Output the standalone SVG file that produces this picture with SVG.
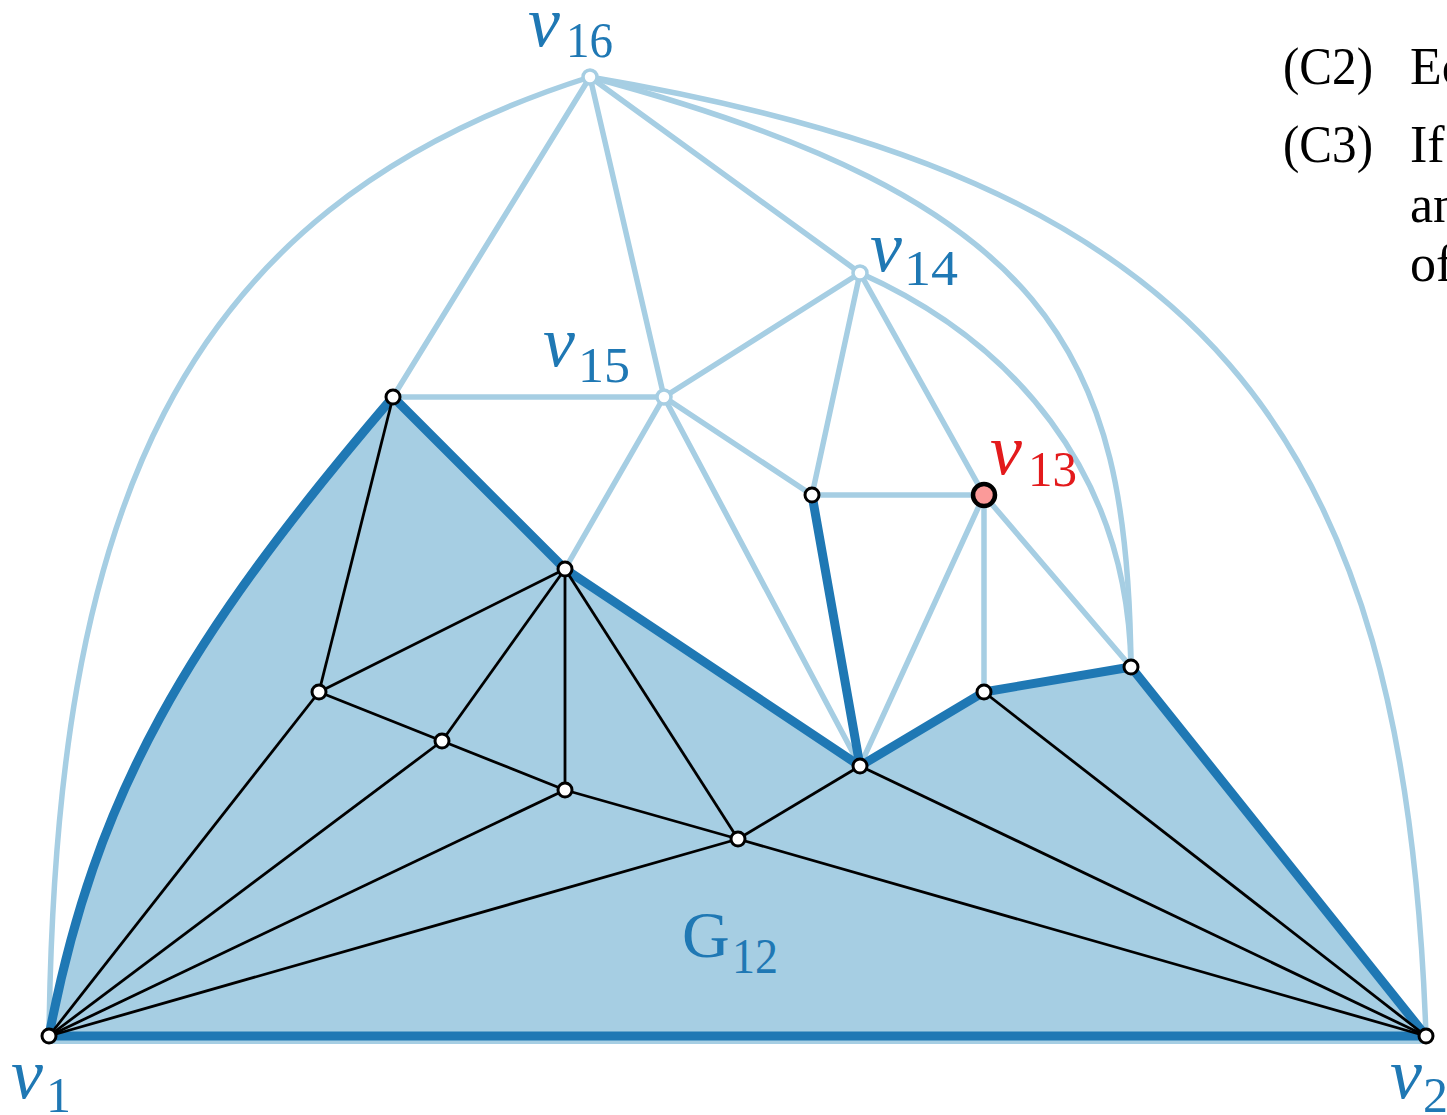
<svg xmlns="http://www.w3.org/2000/svg" width="1447" height="1115" viewBox="0 0 1447 1115">
<style>
.lt{stroke:#a6cee3;stroke-width:5.5;fill:none;stroke-linecap:round}
.dk{stroke:#1f78b4;stroke-width:9;fill:none;stroke-linecap:round;stroke-linejoin:round}
.bk{stroke:#000;stroke-width:2.8;fill:none}
.nd{fill:#fff;stroke:#000;stroke-width:3}
.ln{fill:#fff;stroke:#a6cee3;stroke-width:3.5}
.v{font-family:"Liberation Serif",serif;font-style:italic;font-size:72px;fill:#1f78b4}
.s{font-family:"Liberation Serif",serif;font-size:50px;fill:#1f78b4}
.t{font-family:"Liberation Serif",serif;font-size:52px;fill:#000}
</style>
<rect width="1447" height="1115" fill="#fff"/>
<g id="region">
<path d="M49,1036 C95,795 185,640 393,397 L565,569 L860,766 L984,692 L1131,667 L1426,1036 Z" fill="#a6cee3" stroke="#a6cee3" stroke-width="4"/>
<line x1="49" y1="1039" x2="1426" y2="1039" stroke="#a6cee3" stroke-width="10"/>
</g>
<g id="connectors">
<path class="lt" d="M49,1036 C55,520 170,210 590,77"/>
<path class="lt" d="M590,77 C1200,180 1405,420 1426,1036"/>
<path class="lt" d="M590,77 C1050,200 1128,350 1131,667"/>
<path class="lt" d="M860,273 C1010,340 1128,470 1131,667"/>
<line class="lt" x1="590" y1="77" x2="393" y2="397"/>
<line class="lt" x1="590" y1="77" x2="664" y2="397"/>
<line class="lt" x1="590" y1="77" x2="860" y2="273"/>
<line class="lt" x1="393" y1="397" x2="664" y2="397"/>
<line class="lt" x1="664" y1="397" x2="565" y2="569"/>
<line class="lt" x1="664" y1="397" x2="860" y2="273"/>
<line class="lt" x1="664" y1="397" x2="812" y2="495"/>
<line class="lt" x1="664" y1="397" x2="860" y2="766"/>
<line class="lt" x1="860" y1="273" x2="812" y2="495"/>
<line class="lt" x1="860" y1="273" x2="984" y2="495"/>
<line class="lt" x1="812" y1="495" x2="984" y2="495"/>
<line class="lt" x1="984" y1="495" x2="860" y2="766"/>
<line class="lt" x1="984" y1="495" x2="984" y2="692"/>
<line class="lt" x1="984" y1="495" x2="1131" y2="667"/>
<path class="dk" d="M49,1036 C95,795 185,640 393,397 L565,569 L860,766 L984,692 L1131,667 L1426,1036 L49,1036"/>
<line class="dk" x1="812" y1="495" x2="860" y2="766"/>
<line class="bk" x1="393" y1="397" x2="319" y2="692"/>
<line class="bk" x1="319" y1="692" x2="565" y2="569"/>
<line class="bk" x1="319" y1="692" x2="442" y2="741"/>
<line class="bk" x1="319" y1="692" x2="49" y2="1036"/>
<line class="bk" x1="565" y1="569" x2="442" y2="741"/>
<line class="bk" x1="565" y1="569" x2="565" y2="790"/>
<line class="bk" x1="565" y1="569" x2="738" y2="839"/>
<line class="bk" x1="442" y1="741" x2="565" y2="790"/>
<line class="bk" x1="442" y1="741" x2="49" y2="1036"/>
<line class="bk" x1="565" y1="790" x2="738" y2="839"/>
<line class="bk" x1="565" y1="790" x2="49" y2="1036"/>
<line class="bk" x1="738" y1="839" x2="860" y2="766"/>
<line class="bk" x1="738" y1="839" x2="49" y2="1036"/>
<line class="bk" x1="738" y1="839" x2="1426" y2="1036"/>
<line class="bk" x1="860" y1="766" x2="1426" y2="1036"/>
<line class="bk" x1="984" y1="692" x2="1426" y2="1036"/>
</g>
<g id="v16"><circle class="ln" cx="590" cy="77" r="7"/><text class="v" x="528" y="46">v</text><text class="s" x="566" y="57" textLength="47" lengthAdjust="spacingAndGlyphs">16</text></g>
<g id="v15"><circle class="ln" cx="664" cy="397" r="7"/><text class="v" x="543" y="366">v</text><text class="s" x="578" y="382" textLength="52" lengthAdjust="spacingAndGlyphs">15</text></g>
<g id="v14"><circle class="ln" cx="860" cy="273" r="7"/><text class="v" x="870" y="271">v</text><text class="s" x="904" y="285" textLength="54" lengthAdjust="spacingAndGlyphs">14</text></g>
<g id="v13"><circle cx="984" cy="495" r="11" fill="#fb9a99" stroke="#000" stroke-width="4.5"/><text class="v" x="990" y="474" style="fill:#e31a1c">v</text><text class="s" x="1028" y="486" textLength="49" lengthAdjust="spacingAndGlyphs" style="fill:#e31a1c">13</text></g>
<g id="a"><circle class="nd" cx="393" cy="397" r="7"/></g>
<g id="b"><circle class="nd" cx="565" cy="569" r="7"/></g>
<g id="c"><circle class="nd" cx="319" cy="692" r="7"/></g>
<g id="d"><circle class="nd" cx="442" cy="741" r="7"/></g>
<g id="e"><circle class="nd" cx="565" cy="790" r="7"/></g>
<g id="f"><circle class="nd" cx="738" cy="839" r="7"/></g>
<g id="g"><circle class="nd" cx="860" cy="766" r="7"/></g>
<g id="h"><circle class="nd" cx="812" cy="495" r="7"/></g>
<g id="i"><circle class="nd" cx="984" cy="692" r="7"/></g>
<g id="j"><circle class="nd" cx="1131" cy="667" r="7"/></g>
<g id="v1"><circle class="nd" cx="49" cy="1036" r="7"/><text class="v" x="11" y="1098">v</text><text class="s" x="46" y="1112">1</text></g>
<g id="v2"><circle class="nd" cx="1426" cy="1036" r="7"/><text class="v" x="1390" y="1098">v</text><text class="s" x="1423" y="1112">2</text></g>
<g id="G12"><text class="v" x="682" y="957" style="font-style:normal;font-size:66px">G</text><text class="s" x="732" y="973" textLength="46" lengthAdjust="spacingAndGlyphs">12</text></g>
<g id="text">
<text class="t" x="1283" y="84" textLength="90" lengthAdjust="spacingAndGlyphs">(C2)</text>
<text class="t" x="1410" y="84">Ec</text>
<text class="t" x="1283" y="162" textLength="90" lengthAdjust="spacingAndGlyphs">(C3)</text>
<text class="t" x="1410" y="162">If</text>
<text class="t" x="1410" y="222">an</text>
<text class="t" x="1410" y="281">of</text>
</g>
</svg>
